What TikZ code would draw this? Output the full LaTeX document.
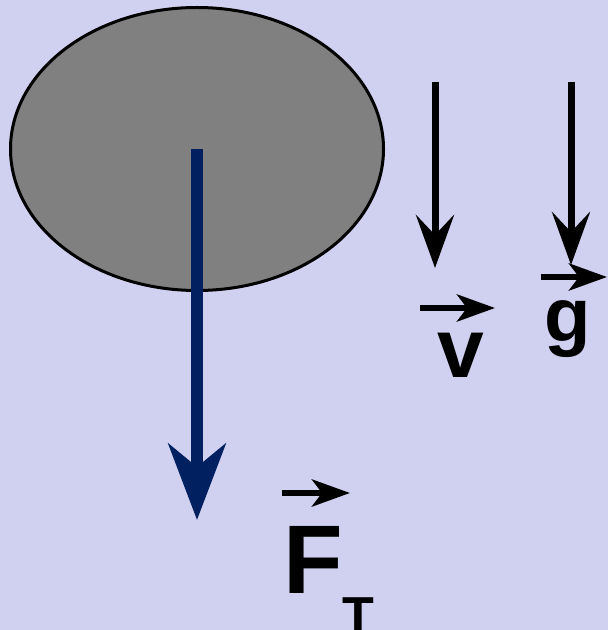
\documentclass[tikz,border=0pt]{standalone}
\usepackage{fontspec}
\setmainfont{Liberation Sans}
\usepackage{xcolor}
\definecolor{skylav}{RGB}{208,208,240}
\definecolor{bodygray}{RGB}{128,128,128}
\definecolor{forceblue}{RGB}{0,32,96}
\usetikzlibrary{arrows.meta, shapes.geometric}

\begin{document}
\begin{tikzpicture}[
    x=0.5pt, y=-0.5pt,
    body/.style={ellipse, draw, fill=bodygray, line width=1.5pt, minimum width=186.5pt, minimum height=141.5pt, inner sep=0pt},
    force/.style={forceblue, line width=6pt, -{Stealth[length=38pt, width=28.5pt, inset=11.5pt]}},
    motion/.style={line width=3.5pt, -{Stealth[length=26.5pt, width=19pt, inset=10pt]}},
    vecbar/.style={line width=3pt, -{Stealth[length=19pt, width=13.5pt, inset=5pt]}},
    sym/.style={anchor=base west, inner sep=0pt, font=\bfseries\fontsize{#1}{#1}\selectfont},
]
\fill[skylav] (0,0) rectangle (608,630);
\useasboundingbox (0,0) rectangle (608,630);

\node[body] (ball) at (197,149) {};

% gravity force on the ball
\coordinate (ftip) at (197,520);
\draw[force] (ball.center) -- (ftip);

% velocity and free-fall acceleration
\coordinate (vtop) at (435,82);
\coordinate (vtip) at (435,268);
\coordinate (gtop) at (571,82);
\coordinate (gtip) at (571,265);
\draw[motion] (vtop) -- (vtip);
\draw[motion] (gtop) -- (gtip);

% vector symbols
\node[sym=42pt] (vsym) at (437,377) {v};
\node[sym=38pt] (gsym) at (544,341) {g};
\node[sym=48.75pt] (fsym) at (283,593) {F};
\node[sym=26pt] (tsub) at (342,633) {T};

\coordinate (vbarl) at (420,308);
\coordinate (vbarr) at (495,308);
\coordinate (gbarl) at (541,277);
\coordinate (gbarr) at (607,277);
\coordinate (fbarl) at (282,493);
\coordinate (fbarr) at (350,493);
\draw[vecbar] (vbarl) -- (vbarr);
\draw[vecbar] (gbarl) -- (gbarr);
\draw[vecbar] (fbarl) -- (fbarr);
\end{tikzpicture}
\end{document}
